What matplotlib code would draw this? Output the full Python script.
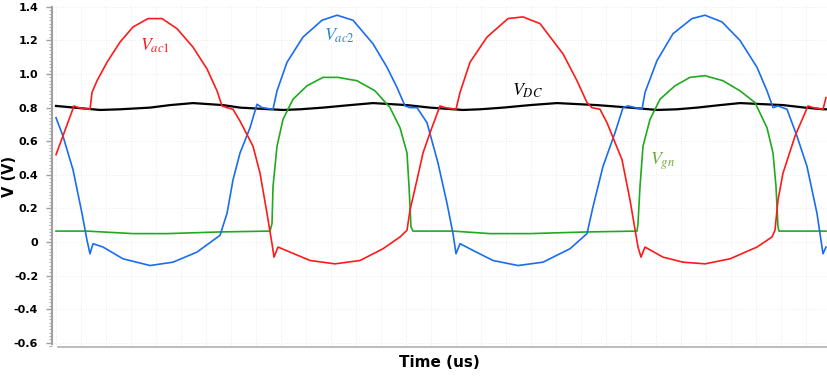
import matplotlib
matplotlib.use("Agg")
import matplotlib.pyplot as plt
from matplotlib.ticker import MultipleLocator, FuncFormatter

# time in us, values in V
t_ac1 = [0.0, 1.8, 2.2, 3.4, 3.6, 4.1, 5.1, 6.4, 7.7, 9.2, 10.6, 12.1, 13.7, 15.1, 16.1,
         16.6, 17.1, 17.7, 18.4, 19.7, 20.4, 21.1, 21.6, 21.8, 22.2, 23.4, 25.4, 27.9,
         30.4, 32.7, 34.4, 35.1, 35.4, 36.1, 36.7, 37.4, 38.4, 38.9, 40.0, 40.4, 41.4,
         43.1, 45.2, 46.7, 48.4, 50.7, 52.1, 53.1, 53.6, 54.4, 55.1, 56.6, 57.4, 58.2,
         58.5, 58.9, 60.7, 62.7, 64.9, 67.4, 70.1, 71.6, 71.9, 72.2, 72.7, 73.9, 75.2,
         75.7, 76.7, 77.0]
v_ac1 = [0.52, 0.81, 0.80, 0.79, 0.89, 0.96, 1.07, 1.19, 1.28, 1.33, 1.33, 1.27, 1.16, 1.03, 0.90,
         0.81, 0.80, 0.79, 0.72, 0.57, 0.41, 0.17, -0.01, -0.09, -0.03, -0.06, -0.11, -0.13,
         -0.11, -0.04, 0.03, 0.07, 0.19, 0.37, 0.53, 0.65, 0.81, 0.80, 0.79, 0.89, 1.07,
         1.22, 1.33, 1.34, 1.30, 1.12, 0.96, 0.83, 0.80, 0.79, 0.71, 0.49, 0.25, -0.03,
         -0.09, -0.03, -0.09, -0.12, -0.13, -0.10, -0.03, 0.03, 0.07, 0.25, 0.41, 0.63, 0.81,
         0.80, 0.79, 0.86]

t_ac2 = [0.0, 0.7, 1.7, 2.6, 3.1, 3.4, 3.7, 4.7, 6.7, 9.4, 11.7, 14.1, 16.4, 17.1, 17.7,
         18.4, 19.4, 20.1, 20.6, 21.7, 22.1, 23.1, 24.7, 26.6, 28.1, 29.7, 31.7, 33.1,
         34.1, 34.9, 35.4, 36.1, 37.1, 38.2, 39.1, 39.7, 40.0, 40.4, 41.7, 43.7, 46.2,
         48.7, 51.4, 53.1, 53.7, 54.7, 55.9, 56.7, 57.2, 58.6, 58.9, 60.1, 61.7, 63.6,
         64.9, 66.6, 68.4, 70.1, 71.1, 71.7, 72.2, 73.1, 74.1, 75.1, 76.1, 76.7, 77.0]
v_ac2 = [0.74, 0.63, 0.43, 0.17, 0.01, -0.07, -0.01, -0.03, -0.10, -0.14, -0.12, -0.06, 0.04, 0.17, 0.37,
         0.53, 0.68, 0.82, 0.80, 0.79, 0.90, 1.07, 1.22, 1.32, 1.35, 1.32, 1.18, 1.04,
         0.92, 0.81, 0.80, 0.80, 0.71, 0.47, 0.23, 0.05, -0.07, -0.01, -0.05, -0.11, -0.14,
         -0.12, -0.04, 0.05, 0.21, 0.45, 0.65, 0.80, 0.81, 0.79, 0.89, 1.08, 1.24, 1.33,
         1.35, 1.31, 1.20, 1.04, 0.90, 0.80, 0.81, 0.79, 0.63, 0.45, 0.17, -0.07, -0.03]

t_gn = [0.0, 3.1, 7.7, 11.1, 16.4, 21.4, 21.6, 21.7, 22.1, 22.7, 23.7, 25.1, 26.7, 28.2,
        30.1, 31.9, 33.4, 34.4, 35.1, 35.3, 35.5, 35.7, 39.7, 43.4, 47.4, 53.1, 58.1,
        58.2, 58.4, 58.7, 59.4, 60.4, 61.9, 63.4, 64.9, 66.7, 68.4, 69.9, 71.1, 71.7,
        72.0, 72.2, 72.3, 77.0]
v_gn = [0.065, 0.065, 0.05, 0.05, 0.06, 0.065, 0.11, 0.33, 0.57, 0.73, 0.85, 0.93, 0.98, 0.98,
        0.96, 0.90, 0.80, 0.68, 0.53, 0.33, 0.09, 0.065, 0.065, 0.05, 0.05, 0.06, 0.065,
        0.11, 0.33, 0.57, 0.73, 0.85, 0.93, 0.98, 0.99, 0.96, 0.90, 0.83, 0.68, 0.53,
        0.33, 0.09, 0.065, 0.065]

t_dc = [0.0, 4.4, 6.4, 9.4, 11.4, 13.7, 16.7, 18.4, 22.7, 24.4, 26.7, 29.4, 31.7, 35.1,
        37.4, 40.7, 42.4, 44.7, 47.4, 50.1, 54.1, 57.4, 60.1, 62.1, 64.1, 66.4, 68.4,
        72.7, 74.9, 76.7, 77.0]
v_dc = [0.81, 0.786, 0.79, 0.80, 0.815, 0.827, 0.815, 0.80, 0.786, 0.79, 0.80, 0.815, 0.827, 0.815,
        0.80, 0.786, 0.79, 0.80, 0.815, 0.827, 0.815, 0.80, 0.786, 0.79, 0.80, 0.815, 0.827,
        0.815, 0.80, 0.79, 0.79]

plt.rcParams['mathtext.fontset'] = 'stix'

fig = plt.figure(figsize=(8.27, 3.76), dpi=100)
ax = fig.add_axes([0.0629, 0.0771, 0.9371, 0.907])

ax.plot(t_dc, v_dc, color='black', lw=1.6, zorder=3)
ax.plot(t_gn, v_gn, color='#1faa1f', lw=1.2, zorder=4)
ax.plot(t_ac2, v_ac2, color='#1a6cf0', lw=1.2, zorder=5)
ax.plot(t_ac1, v_ac1, color='#ff1a1a', lw=1.2, zorder=6)

ax.text(9.9, 1.17, r'$V_{ac1}$', color='#ff1a1a', fontsize=13, ha='center', va='center')
ax.text(28.3, 1.23, r'$V_{ac2}$', color='#2e86c8', fontsize=13, ha='center', va='center')
ax.text(47.1, 0.90, r'$V_{DC}$', color='black', fontsize=13, ha='center', va='center')
ax.text(60.7, 0.48, r'$V_{gn}$', color='#6aaa3a', fontsize=13, ha='center', va='center')

ax.set_xlim(-0.4, 77.1)
ax.set_ylim(-0.625, 1.405)

ax.yaxis.set_major_locator(MultipleLocator(0.2))
ax.yaxis.set_minor_locator(MultipleLocator(0.02))
ax.yaxis.set_major_formatter(FuncFormatter(lambda v, p: '0' if abs(v) < 1e-9 else f'{v:.1f}'))
ax.xaxis.set_major_locator(MultipleLocator(2.5))
ax.tick_params(axis='x', length=0, labelbottom=False)
ax.tick_params(axis='y', which='major', length=4, color='#a0a0a0', width=1, pad=6)
ax.tick_params(axis='y', which='minor', length=2.5, color='#b0b0b0', width=0.8)
for lab in ax.get_yticklabels():
    lab.set_fontweight('bold')
    lab.set_fontsize(8)

ax.grid(True, which='major', color='#ececec', ls=':', lw=0.7)
ax.set_axisbelow(True)

for s in ['top', 'right']:
    ax.spines[s].set_visible(False)
ax.spines['left'].set_color('#a0a0a0')
ax.spines['left'].set_linewidth(1.5)
ax.spines['left'].set_bounds(-0.61, 1.4)
ax.spines['bottom'].set_color('#b0b0b0')
ax.spines['bottom'].set_linewidth(1.2)
ax.spines['bottom'].set_bounds(0.2, 77.1)

ax.set_xlabel('Time (us)', fontsize=11, fontweight='bold', labelpad=6)
ax.set_ylabel('V (V)', fontsize=10.5, fontweight='bold')
ax.yaxis.set_label_coords(-0.045, 0.5)

fig.savefig('out.png', dpi=100)
